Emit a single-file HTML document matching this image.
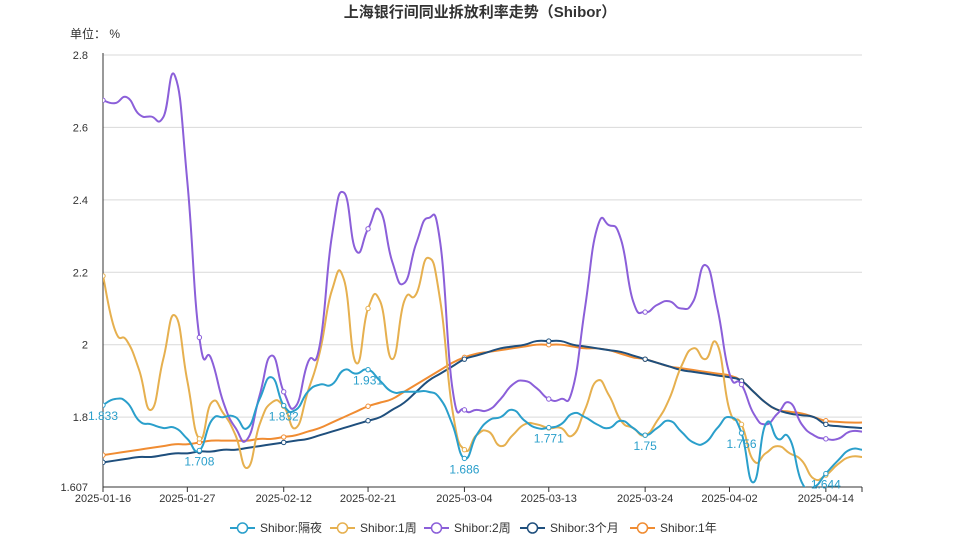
<!DOCTYPE html>
<html><head><meta charset="utf-8"><style>
body{margin:0;background:#fff;}
svg{display:block;font-family:"Liberation Sans","Noto Sans CJK SC",sans-serif;}
</style></head><body>
<svg id="chart" width="959" height="540" viewBox="0 0 959 540" xmlns="http://www.w3.org/2000/svg">
<text x="480" y="17" text-anchor="middle" font-size="15" font-weight="bold" fill="#333">上海银行间同业拆放利率走势（Shibor）</text>
<text x="70" y="38" font-size="12" fill="#333">单位： %</text>
<g id="grid"></g><g id="series"></g><g id="legend"></g>
</svg>
<script>
const dates=["2025-01-16","2025-01-27","2025-02-12","2025-02-21","2025-03-04","2025-03-13","2025-03-24","2025-04-02","2025-04-14"];
const dateIdx=[0,7,15,22,30,37,45,52,60];
const yTicks=[1.607,1.8,2,2.2,2.4,2.6,2.8];
const seriesNames=["Shibor:隔夜","Shibor:1周","Shibor:2周","Shibor:3个月","Shibor:1年"];
const overnight=[1.833,1.85,1.84,1.79,1.78,1.77,1.77,1.74,1.708,1.79,1.80,1.80,1.77,1.85,1.91,1.832,1.82,1.87,1.89,1.89,1.93,1.92,1.931,1.90,1.87,1.87,1.87,1.87,1.85,1.78,1.686,1.75,1.79,1.80,1.82,1.79,1.77,1.771,1.78,1.81,1.80,1.78,1.77,1.79,1.77,1.75,1.77,1.79,1.76,1.73,1.73,1.77,1.80,1.756,1.62,1.78,1.74,1.74,1.62,1.607,1.644,1.68,1.71,1.71];
const week1=[2.19,2.04,2.01,1.93,1.82,1.96,2.08,1.90,1.74,1.84,1.81,1.75,1.66,1.78,1.84,1.83,1.77,1.87,1.98,2.15,2.18,1.95,2.10,2.12,1.96,2.12,2.14,2.24,2.12,1.82,1.71,1.75,1.76,1.72,1.75,1.78,1.78,1.77,1.77,1.75,1.82,1.90,1.86,1.79,1.77,1.75,1.79,1.85,1.94,1.99,1.96,2.0,1.82,1.78,1.68,1.70,1.72,1.70,1.68,1.63,1.64,1.67,1.69,1.69];
const week2=[2.675,2.667,2.683,2.636,2.63,2.628,2.74,2.45,2.02,1.96,1.84,1.77,1.74,1.86,1.97,1.87,1.83,1.95,2.0,2.30,2.42,2.26,2.32,2.37,2.23,2.17,2.28,2.35,2.28,1.88,1.82,1.82,1.82,1.85,1.89,1.90,1.88,1.85,1.85,1.88,2.10,2.32,2.33,2.29,2.12,2.09,2.11,2.12,2.10,2.12,2.22,2.10,1.92,1.89,1.81,1.78,1.81,1.84,1.78,1.75,1.74,1.74,1.76,1.76];
const month3=[1.675,1.68,1.685,1.69,1.69,1.695,1.70,1.70,1.705,1.705,1.71,1.71,1.715,1.72,1.725,1.73,1.735,1.74,1.75,1.76,1.77,1.78,1.79,1.80,1.82,1.84,1.87,1.90,1.92,1.94,1.96,1.97,1.98,1.99,1.995,2.00,2.01,2.01,2.01,2.00,1.995,1.99,1.985,1.98,1.97,1.96,1.95,1.94,1.93,1.925,1.92,1.915,1.91,1.90,1.87,1.84,1.82,1.81,1.805,1.80,1.78,1.775,1.772,1.77];
const year1=[1.695,1.70,1.705,1.71,1.715,1.72,1.725,1.725,1.73,1.735,1.735,1.735,1.735,1.74,1.74,1.745,1.75,1.76,1.77,1.785,1.80,1.815,1.83,1.84,1.85,1.87,1.89,1.91,1.93,1.95,1.965,1.975,1.98,1.985,1.99,1.995,2.0,2.0,2.0,1.995,1.99,1.99,1.985,1.975,1.965,1.96,1.95,1.94,1.935,1.93,1.925,1.92,1.915,1.90,1.87,1.84,1.82,1.815,1.81,1.80,1.79,1.787,1.785,1.785];
const colors=["#2a9fcb","#e6b04f","#8b5fd9","#1f4f7d","#f08c32"];
const all=[overnight,week1,week2,month3,year1];
const X0=103,X1=862,YMIN=1.607,YMAX=2.8,PT=55,PB=487;
const N=overnight.length;
function xs(i){return X0+(X1-X0)*i/(N-1);}
function ys(v){return PB-(v-YMIN)/(YMAX-YMIN)*(PB-PT);}
const NS="http://www.w3.org/2000/svg";
function mk(t,a,p){const e=document.createElementNS(NS,t);for(const k in a)e.setAttribute(k,a[k]);p.appendChild(e);return e;}
const grid=document.getElementById('grid');
yTicks.forEach(t=>{
  if(t!==YMIN){const l=mk('line',{x1:X0,x2:X1,y1:ys(t),y2:ys(t),stroke:'#d9d9d9','stroke-width':1},grid);
  
  }
  const tx=mk('text',{x:88,y:ys(t)+4,'text-anchor':'end','font-size':11,fill:'#333'},grid);tx.textContent=String(t);
  
  
});
const ya=mk('line',{x1:X0,x2:X0,y1:PT-2,y2:PB,stroke:'#333'},grid);


const xa=mk('line',{x1:X0,x2:X1,y1:PB,y2:PB,stroke:'#333'},grid);


dates.forEach((d,k)=>{
  const x=xs(dateIdx[k]);
  mk('line',{x1:x,x2:x,y1:PB,y2:PB+5,stroke:'#333'},grid);
  const tx=mk('text',{x:x,y:PB+15,'text-anchor':'middle','font-size':11,fill:'#333'},grid);tx.textContent=d;
  
  
});
mk('line',{x1:X1,x2:X1,y1:PB,y2:PB+5,stroke:'#333'},grid);
function smooth(arr){
  const p=arr.map((v,i)=>[xs(i),ys(v)]);let d='M'+p[0][0]+','+p[0][1];
  for(let i=0;i<p.length-1;i++){const a=p[Math.max(0,i-1)],b=p[i],c=p[i+1],e=p[Math.min(p.length-1,i+2)];const t=0.25;
    d+=' C'+(b[0]+(c[0]-a[0])*t)+','+(b[1]+(c[1]-a[1])*t)+' '+(c[0]-(e[0]-b[0])*t)+','+(c[1]-(e[1]-b[1])*t)+' '+c[0]+','+c[1];}
  return d;
}
const sg=document.getElementById('series');
const defs=mk('defs',{},sg);const cp=mk('clipPath',{id:'clip'},defs);mk('rect',{x:X0,y:PT-10,width:X1-X0+2,height:PB-PT+10},cp);
const keys=['overnight','1-week','2-week','3-month','1-year'];
const markIdx=[0,8,15,22,30,37,45,53,60];
[4,3,1,2,0].forEach(s=>{
  const g=mk('g',{'clip-path':'url(#clip)'},sg);
  
  
  const path=mk('path',{d:smooth(all[s]),fill:'none',stroke:colors[s],'stroke-width':2},g);
  
  
  markIdx.forEach(i=>{
    const c=mk('circle',{cx:xs(i),cy:ys(all[s][i]),r:2.2,fill:'#fff',stroke:colors[s],'stroke-width':1},g);
    
    
  });
});
markIdx.forEach(i=>{
  const t=mk('text',{x:xs(i),y:Math.min(ys(overnight[i])+15,PB+2),'text-anchor':'middle','font-size':12,fill:'#2a9fcb'},sg);
  t.textContent=String(overnight[i]);
  
  
});
const lg=document.getElementById('legend');
const lx=[230,330,424,520,630];
seriesNames.forEach((n,k)=>{
  const g=mk('g',{},lg);
  
  
  mk('line',{x1:lx[k],x2:lx[k]+25,y1:528,y2:528,stroke:colors[k],'stroke-width':2},g);
  mk('circle',{cx:lx[k]+12.5,cy:528,r:5,fill:'#fff',stroke:colors[k],'stroke-width':1.5},g);
  const t=mk('text',{x:lx[k]+30,y:532,'font-size':12,fill:'#333'},g);t.textContent=n;
});
</script>
</body></html>
